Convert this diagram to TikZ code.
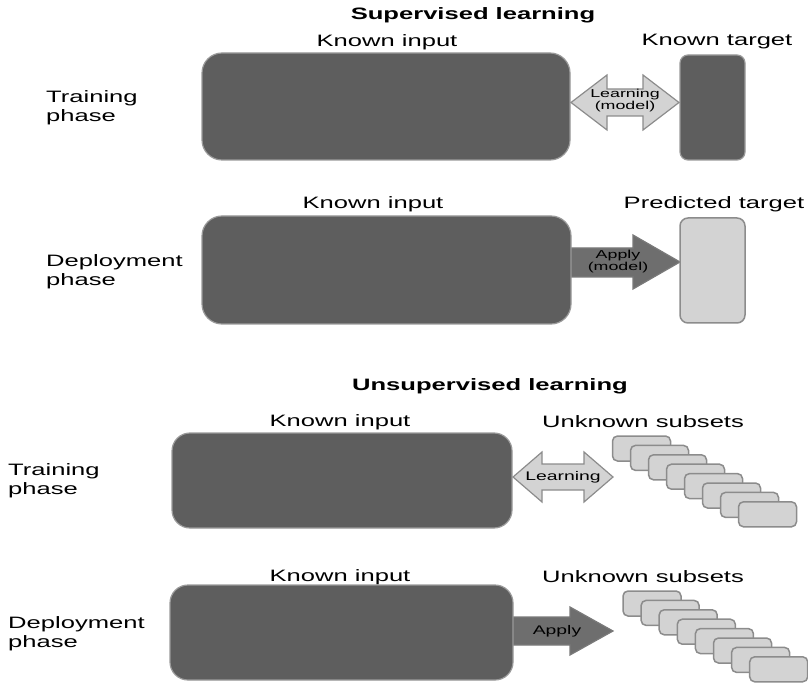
\documentclass[tikz,border=0pt]{standalone}
\usepackage{fontspec}
\setmainfont{Liberation Sans}
\usepackage{graphicx}
\definecolor{darkfill}{HTML}{5E5E5E}
\definecolor{darkedge}{HTML}{9A9A9A}
\definecolor{lightfill}{HTML}{D3D3D3}
\definecolor{lightedge}{HTML}{8C8C8C}
\definecolor{applyfill}{HTML}{6E6E6E}
\definecolor{applyedge}{HTML}{7A7A7A}
\newcommand{\wide}[1]{\scalebox{1.55}[1]{#1}}
\newcommand{\twolines}[2]{\wide{\begin{tabular}{@{}l@{}}#1\\#2\end{tabular}}}
\newcommand{\twoc}[2]{\wide{\begin{tabular}{@{}c@{}}#1\\#2\end{tabular}}}
\tikzset{
  darkbox/.style={draw=darkedge, line width=1.2pt, fill=darkfill, inner sep=0pt},
  lightbox/.style={draw=lightedge, line width=1.5pt, fill=lightfill, inner sep=0pt},
  subbox/.style={draw=lightedge, line width=1.5pt, fill=lightfill, inner sep=0pt,
    minimum width=58pt, minimum height=25pt, rounded corners=5pt},
  lbl/.style={font=\fontsize{16.5}{19}\selectfont, inner sep=0pt},
  ttl/.style={font=\fontsize{16.5}{18}\selectfont\bfseries, inner sep=0pt},
  arrtxt/.style={font=\fontsize{11.5}{12.5}\selectfont, inner sep=0pt},
  learnarrow/.style={draw=lightedge, line width=1.2pt, fill=lightfill, line join=miter},
  applyarrow/.style={draw=applyedge, line width=1.2pt, fill=applyfill, line join=miter},
}
\begin{document}
\begin{tikzpicture}[x=1pt, y=-1pt]
\useasboundingbox (0,0) rectangle (808,684);

% ---------------- Supervised learning ----------------
\node[ttl] (t1) at (473,15) {\wide{Supervised learning}};

% Training phase
\node[lbl, anchor=west] (tp1) at (46,108) {\twolines{Training}{phase}};
\node[lbl] (ki1) at (387,42) {\wide{Known input}};
\node[lbl] (kt1) at (717,42) {\wide{Known target}};
\node[darkbox, rounded corners=20pt, minimum width=368pt, minimum height=107pt] (in1) at (386,106.5) {};
\node[darkbox, rounded corners=8pt, minimum width=65pt, minimum height=105pt] (tg1) at (712.5,107.5) {};
\draw[learnarrow] (571,102.5) -- (607,75) -- (607,89) -- (643,89) -- (643,75) -- (679,102.5)
  -- (643,130) -- (643,116) -- (607,116) -- (607,130) -- cycle;
\node[arrtxt] (la1) at (625,101) {\twoc{Learning}{(model)}};

% Deployment phase
\node[lbl, anchor=west] (dp1) at (46,272) {\twolines{Deployment}{phase}};
\node[lbl] (ki2) at (373,204) {\wide{Known input}};
\node[lbl] (pt1) at (714,204) {\wide{Predicted target}};
\draw[applyarrow] (566,248) -- (633,248) -- (633,235) -- (680,262) -- (633,289) -- (633,277) -- (566,277) -- cycle;
\node[darkbox, rounded corners=20pt, minimum width=369pt, minimum height=108pt] (in2) at (386.5,270) {};
\node[lightbox, rounded corners=8pt, minimum width=65pt, minimum height=105pt] (tg2) at (712.5,270.5) {};
\node[arrtxt] (ap1) at (618,262) {\twoc{Apply}{(model)}};

% ---------------- Unsupervised learning ----------------
\node[ttl] (t2) at (490,386) {\wide{Unsupervised learning}};

% Training phase
\node[lbl, anchor=west] (tp2) at (8,481) {\twolines{Training}{phase}};
\node[lbl] (ki3) at (340,422) {\wide{Known input}};
\node[lbl] (us1) at (643,422) {\wide{Unknown subsets}};
\node[darkbox, rounded corners=18pt, minimum width=340pt, minimum height=95pt] (in3) at (342,480.5) {};
\draw[learnarrow] (513,477) -- (542,452) -- (542,464) -- (584,464) -- (584,452) -- (613,477)
  -- (584,502) -- (584,490) -- (542,490) -- (542,502) -- cycle;
\node[arrtxt, font=\fontsize{12.5}{13.5}\selectfont] (la2) at (563,477) {\wide{Learning}};
\foreach \i in {0,...,7}
  \node[subbox] (sa\i) at ({641.5+18*\i},{448.5+9.4*\i}) {};

% Deployment phase
\node[lbl, anchor=west] (dp2) at (8,634) {\twolines{Deployment}{phase}};
\node[lbl] (ki4) at (340,577) {\wide{Known input}};
\node[lbl] (us2) at (643,577) {\wide{Unknown subsets}};
\draw[applyarrow] (508,617) -- (570,617) -- (570,607) -- (613,631) -- (570,655) -- (570,645) -- (508,645) -- cycle;
\node[darkbox, rounded corners=18pt, minimum width=343pt, minimum height=95pt] (in4) at (341.5,632.5) {};
\node[arrtxt, font=\fontsize{12.5}{13.5}\selectfont] (ap2) at (557,631) {\wide{Apply}};
\foreach \i in {0,...,7}
  \node[subbox] (sb\i) at ({652+18.1*\i},{603.5+9.4*\i}) {};
\end{tikzpicture}
\end{document}
